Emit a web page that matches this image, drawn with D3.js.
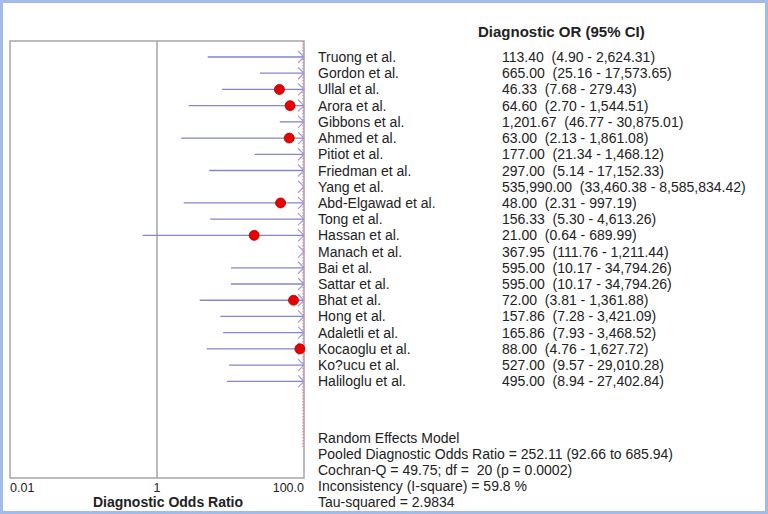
<!DOCTYPE html>
<html><head><meta charset="utf-8">
<script src="https://cdn.jsdelivr.net/npm/d3@7"></script>
<style>
html,body{margin:0;padding:0;background:#fff;}
svg{display:block;font-family:"Liberation Sans",Arial,sans-serif;}
text{white-space:pre;}
</style></head>
<body>
<svg id="chart" width="768" height="514"></svg>
<script>
const studies = ["Truong et al.","Gordon et al.","Ullal et al.","Arora et al.","Gibbons et al.","Ahmed et al.","Pitiot et al.","Friedman et al.","Yang et al.","Abd-Elgawad et al.","Tong et al.","Hassan et al.","Manach et al.","Bai et al.","Sattar et al.","Bhat et al.","Hong et al.","Adaletli et al.","Kocaoglu et al.","Ko?ucu et al.","Haliloglu et al."];
const estimates = [113.40,665.00,46.33,64.60,1201.67,63.00,177.00,297.00,535990.00,48.00,156.33,21.00,367.95,595.00,595.00,72.00,157.86,165.86,88.00,527.00,495.00];
const lowers = [4.90,25.16,7.68,2.70,46.77,2.13,21.34,5.14,33460.38,2.31,5.30,0.64,111.76,10.17,10.17,3.81,7.28,7.93,4.76,9.57,8.94];
const uppers = [2624.31,17573.65,279.43,1544.51,30875.01,1861.08,1468.12,17152.33,8585834.42,997.19,4613.26,689.99,1211.44,34794.26,34794.26,1361.88,3421.09,3468.52,1627.72,29010.28,27402.84];
const tickValues = [0.01, 1, 100];
const tickLabels = ["0.01", "1", "100.0"];
const pooled = {est: 252.11, lo: 92.66, hi: 685.94};
const statsLines = [
  "Random Effects Model",
  "Pooled Diagnostic Odds Ratio = 252.11 (92.66 to 685.94)",
  "Cochran-Q = 49.75; df =  20 (p = 0.0002)",
  "Inconsistency (I-square) = 59.8 %",
  "Tau-squared = 2.9834"
];

const fmt = d3.format(",.2f");
const svg = d3.select("#chart");
const FS = 14;

// outer frame
svg.append("rect").attr("x",1.5).attr("y",1.5).attr("width",765).attr("height",511)
  .attr("fill","#fff").attr("stroke","#a3bbea").attr("stroke-width",3);

const plotL = 10, plotR = 304, plotT = 41, plotB = 478;
const x = d3.scaleLog().domain([0.01,100]).range([plotL,plotR]);
const y = d3.scaleLinear().domain([0, studies.length-1]).range([57, 381.3]);

// plot box
svg.append("rect").attr("x",plotL).attr("y",plotT).attr("width",plotR-plotL).attr("height",plotB-plotT)
  .attr("fill","none").attr("stroke","#a6a6a6").attr("stroke-width",1.5);
// null line
svg.append("line").attr("x1",x(1)).attr("x2",x(1)).attr("y1",plotT).attr("y2",plotB)
  .attr("stroke","#a6a6a6").attr("stroke-width",1.5);

// pooled line (clamped at right edge)
const px = Math.min(x(pooled.est), plotR-1);
svg.append("line").attr("x1",px).attr("x2",px).attr("y1",plotT).attr("y2",447)
  .attr("stroke","#e07080").attr("stroke-width",1).attr("stroke-dasharray","1.5,1.5");

const clampX = v => x(Math.max(0.01, Math.min(100, v)));
const rows = svg.append("g");
studies.forEach((s,i)=>{
  const cy = y(i);
  const x1 = clampX(lowers[i]), x2 = clampX(uppers[i]);
  rows.append("line").attr("x1",x1).attr("x2",uppers[i]>100? x2-1 : x2).attr("y1",cy).attr("y2",cy)
    .attr("stroke","#8585cc").attr("stroke-width",1.3);
  if (uppers[i] > 100) {
    rows.append("path")
      .attr("d",`M${x2-6},${cy-6} L${x2},${cy} L${x2-6},${cy+6}`)
      .attr("fill","none").attr("stroke","#a49ae0").attr("stroke-width",1.2);
  }
  if (estimates[i] <= 100) {
    rows.append("circle").attr("cx",x(estimates[i])).attr("cy",cy).attr("r",5)
      .attr("fill","#e80000").attr("stroke","#b00000").attr("stroke-width",0.8);
  }
  rows.append("text").attr("x",318).attr("y",cy+5).attr("font-size",FS).attr("fill","#222")
    .text(s);
  rows.append("text").attr("x",502).attr("y",cy+5).attr("font-size",FS).attr("fill","#222")
    .text(`${fmt(estimates[i])}  (${fmt(lowers[i])} - ${fmt(uppers[i])})`);
});

// header
svg.append("text").attr("x",478).attr("y",37).attr("font-size",15).attr("font-weight","bold")
  .attr("fill","#222").text("Diagnostic OR (95% CI)");

// axis tick labels
tickValues.forEach((v,i)=>{
  const anchor = i===0 ? "start" : (i===tickValues.length-1 ? "end" : "middle");
  svg.append("text").attr("x",x(v)).attr("y",492).attr("text-anchor",anchor)
    .attr("font-size",12.5).attr("fill","#222").text(tickLabels[i]);
});
svg.append("text").attr("x",168).attr("y",507).attr("text-anchor","middle")
  .attr("font-size",14).attr("font-weight","bold").attr("fill","#222").text("Diagnostic Odds Ratio");

// stats
statsLines.forEach((l,i)=>{
  svg.append("text").attr("x",318).attr("y",443+i*16).attr("font-size",FS).attr("fill","#222").text(l);
});
</script>
</body></html>
